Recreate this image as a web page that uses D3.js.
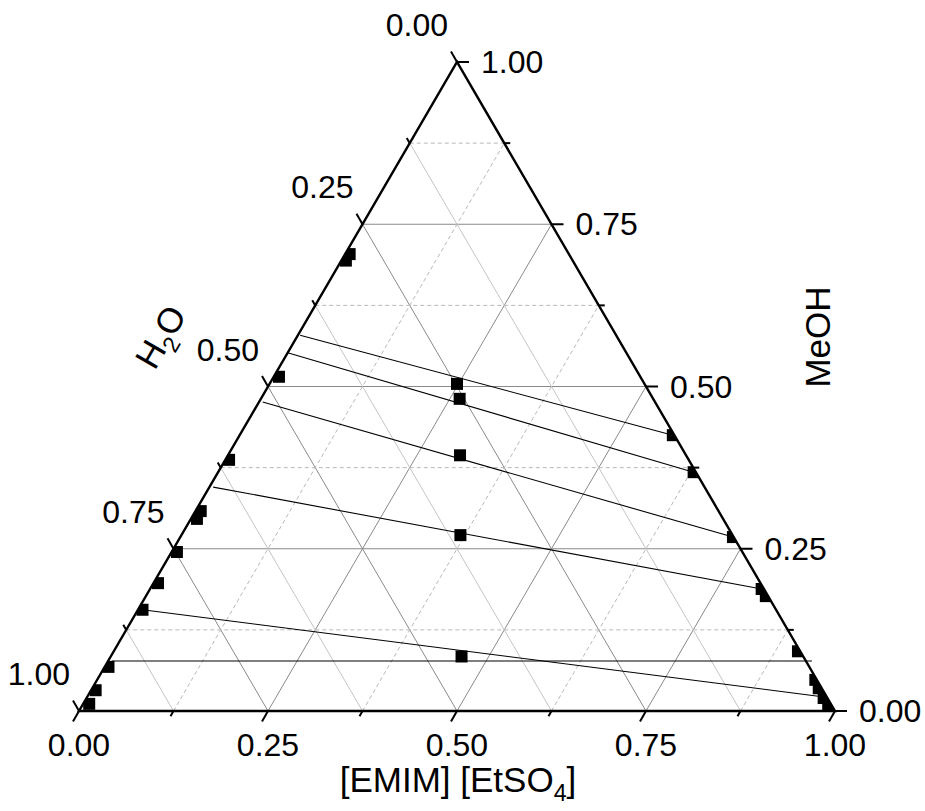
<!DOCTYPE html>
<html>
<head>
<meta charset="utf-8">
<script src="https://cdn.jsdelivr.net/npm/d3@7"></script>
<style>
  body { margin: 0; background: #fff; }
  svg { display: block; }
  text { font-family: "Liberation Sans", Arial, sans-serif; fill: #000; }
</style>
</head>
<body>
<svg id="chart" width="925" height="811"></svg>
<script>
// Mole fractions, each row = [EMIM EtSO4, MeOH, H2O]

// Water-rich phase (left side)
const waterRichPhase = [
  [0.006, 0.704, 0.290],
  [0.006, 0.694, 0.300],
  [0.007, 0.515, 0.478],
  [0.005, 0.387, 0.608],
  [0.007, 0.308, 0.685],
  [0.008, 0.296, 0.696],
  [0.007, 0.245, 0.748],
  [0.006, 0.197, 0.797],
  [0.006, 0.156, 0.838],
  [0.005, 0.068, 0.927],
  [0.006, 0.032, 0.962],
  [0.008, 0.011, 0.981]
];

// Ionic-liquid-rich phase (right side)
const ilRichPhase = [
  [0.573, 0.425, 0.002],
  [0.629, 0.368, 0.003],
  [0.731, 0.268, 0.001],
  [0.809, 0.188, 0.003],
  [0.820, 0.177, 0.003],
  [0.905, 0.092, 0.003],
  [0.950, 0.048, 0.002],
  [0.961, 0.035, 0.004],
  [0.975, 0.020, 0.005],
  [0.987, 0.008, 0.005]
];

// Overall (feed) compositions
const feedPoints = [
  [0.248, 0.504, 0.248],
  [0.263, 0.481, 0.256],
  [0.307, 0.394, 0.299],
  [0.369, 0.271, 0.360],
  [0.464, 0.084, 0.452]
];

// Tie lines: start and end compositions
const tieLineStart = [
  [0.003, 0.579, 0.418],
  [0.000, 0.552, 0.448],
  [0.005, 0.476, 0.519],
  [0.005, 0.345, 0.650],
  [0.006, 0.156, 0.838],
  [0.005, 0.077, 0.918]
];
const tieLineEnd = [
  [0.573, 0.425, 0.002],
  [0.629, 0.368, 0.003],
  [0.731, 0.268, 0.001],
  [0.809, 0.188, 0.003],
  [0.972, 0.022, 0.006],
  [0.931, 0.077, -0.008]
];

const majorTicks = [0, 0.25, 0.5, 0.75, 1];
const minorTicks = [0.125, 0.375, 0.625, 0.875];
const tickLabels = ["0.00", "0.25", "0.50", "0.75", "1.00"];

const svg = d3.select("#chart");

// Ternary frame: horizontal scale along the base, vertical scale for MeOH height
const xs = d3.scaleLinear().domain([0, 1]).range([79, 835]);
const ys = d3.scaleLinear().domain([0, 1]).range([711, 62]);
const px = c => xs(c[0] + c[1] / 2);
const py = c => ys(c[1]);

const corners = [[0, 0, 1], [1, 0, 0], [0, 1, 0]];
const triPath = "M" + corners.map(c => px(c) + "," + py(c)).join("L") + "Z";

svg.append("clipPath").attr("id", "tri")
  .append("path").attr("d", triPath);

// ---- grid lines ----
const grid = svg.append("g");
const gridSpecs = [];
majorTicks.slice(1, 4).concat(minorTicks).forEach(v => {
  const major = majorTicks.includes(v);
  // constant MeOH (horizontal)
  gridSpecs.push({a: [0, v, 1 - v], b: [1 - v, v, 0], kind: major ? "major" : "dash"});
  // constant EMIM EtSO4
  gridSpecs.push({a: [v, 0, 1 - v], b: [v, 1 - v, 0], kind: major ? "major" : "dash"});
  // constant H2O
  gridSpecs.push({a: [1 - v, 0, v], b: [0, 1 - v, v], kind: major ? "major" : "light"});
});
grid.selectAll("line").data(gridSpecs).join("line")
  .attr("x1", d => px(d.a)).attr("y1", d => py(d.a))
  .attr("x2", d => px(d.b)).attr("y2", d => py(d.b))
  .attr("stroke", d => d.kind === "major" ? "#8a8a8a" : (d.kind === "light" ? "#c4c4c4" : "#b8b8b8"))
  .attr("stroke-width", 1)
  .attr("stroke-dasharray", d => d.kind === "dash" ? "4,3" : null);

// ---- tie lines ----
svg.append("g").selectAll("line").data(d3.range(tieLineStart.length)).join("line")
  .attr("x1", i => px(tieLineStart[i])).attr("y1", i => py(tieLineStart[i]))
  .attr("x2", i => px(tieLineEnd[i])).attr("y2", i => py(tieLineEnd[i]))
  .attr("stroke", "#000").attr("stroke-width", 1.1);

// ---- markers ----
const ms = 12;
const marks = svg.append("g").attr("clip-path", "url(#tri)");
[waterRichPhase, ilRichPhase, feedPoints].forEach(series => {
  marks.append("g").selectAll("rect").data(series).join("rect")
    .attr("x", d => px(d) - ms / 2).attr("y", d => py(d) - ms / 2)
    .attr("width", ms).attr("height", ms).attr("fill", "#000");
});

// ---- triangle frame ----
svg.append("path").attr("d", triPath)
  .attr("fill", "none").attr("stroke", "#000").attr("stroke-width", 2.4)
  .attr("stroke-linejoin", "miter");

// ---- ticks ----
const c60 = 0.5, s60 = Math.sqrt(3) / 2;
const axes = [
  { pt: v => [v, 0, 1 - v], dir: [-c60, s60] },   // EMIM EtSO4, base
  { pt: v => [1 - v, v, 0], dir: [1, 0] },        // MeOH, right side
  { pt: v => [0, 1 - v, v], dir: [-c60, -s60] }   // H2O, left side
];
const ticks = svg.append("g").attr("stroke", "#000").attr("stroke-width", 2);
axes.forEach(ax => {
  const tickData = majorTicks.map(v => ({v, len: 12})).concat(minorTicks.map(v => ({v, len: 6})));
  ticks.append("g").selectAll("line").data(tickData).join("line")
    .attr("x1", d => px(ax.pt(d.v))).attr("y1", d => py(ax.pt(d.v)))
    .attr("x2", d => px(ax.pt(d.v)) + ax.dir[0] * d.len)
    .attr("y2", d => py(ax.pt(d.v)) + ax.dir[1] * d.len);
});

// ---- tick labels ----
const labels = svg.append("g").attr("font-size", 32);
labels.selectAll(".bl").data(majorTicks).join("text")
  .attr("x", v => px(axes[0].pt(v))).attr("y", v => py(axes[0].pt(v)) + 45)
  .attr("text-anchor", "middle").text((v, i) => tickLabels[i]);
labels.selectAll(".rl").data(majorTicks).join("text")
  .attr("x", v => px(axes[1].pt(v)) + 24).attr("y", v => py(axes[1].pt(v)) + 11)
  .attr("text-anchor", "start").text((v, i) => tickLabels[i]);
labels.selectAll(".ll").data(majorTicks).join("text")
  .attr("x", v => px(axes[2].pt(v)) - 9).attr("y", v => py(axes[2].pt(v)) - 26)
  .attr("text-anchor", "end").text((v, i) => tickLabels[i]);

// ---- axis titles ----
const titleSize = 35;
const t1 = svg.append("text").attr("font-size", titleSize)
  .attr("x", 458).attr("y", 792).attr("text-anchor", "middle");
t1.append("tspan").text("[EMIM] [EtSO");
t1.append("tspan").attr("dy", 9).attr("font-size", titleSize * 0.66).text("4");
t1.append("tspan").attr("dy", -9).text("]");

svg.append("text").attr("font-size", titleSize)
  .attr("transform", "translate(830,337) rotate(-90)")
  .attr("text-anchor", "middle").text("MeOH");

const t3 = svg.append("text").attr("font-size", titleSize)
  .attr("transform", "translate(171,343) rotate(-60)")
  .attr("text-anchor", "middle");
t3.append("tspan").text("H");
t3.append("tspan").attr("dy", 9).attr("font-size", titleSize * 0.66).text("2");
t3.append("tspan").attr("dy", -9).text("O");
</script>
</body>
</html>
